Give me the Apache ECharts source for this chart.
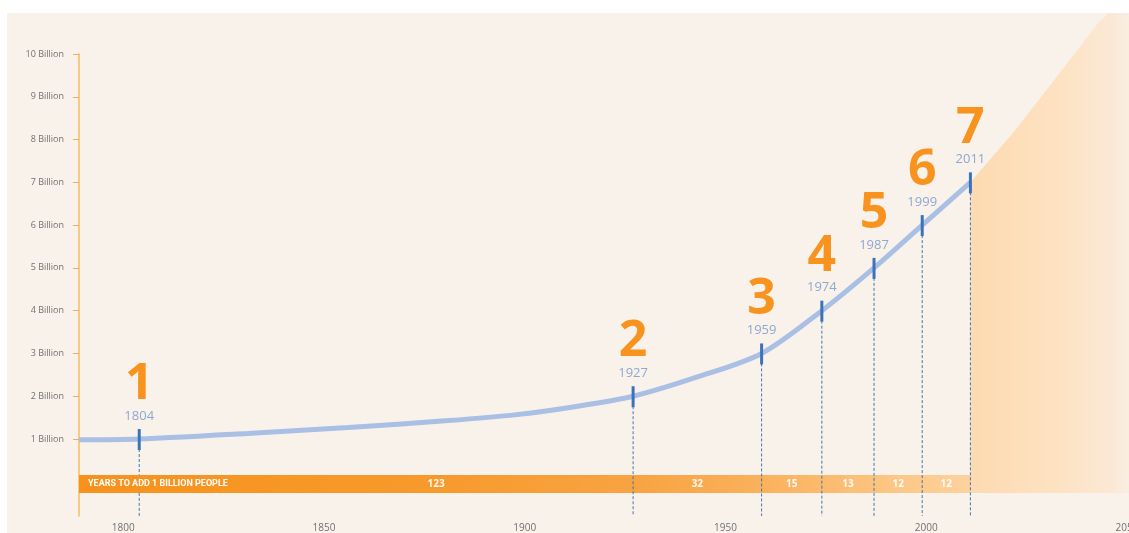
<!DOCTYPE html>
<html><head><meta charset="utf-8">
<script src="https://cdn.jsdelivr.net/npm/echarts@6/dist/echarts.min.js"></script>
<style>html,body{margin:0;padding:0;background:#fff}#c{width:1129px;height:533px}</style>
</head><body><div id="c"></div>
<script>
// ---- data ----
const milestoneYears = [1804, 1927, 1959, 1974, 1987, 1999, 2011];
const milestoneBillions = [1, 2, 3, 4, 5, 6, 7];
const milestoneNumbers = ['1', '2', '3', '4', '5', '6', '7'];
const historyYears = [1789, 1804, 1831, 1856, 1881, 1898, 1912, 1927, 1943, 1959, 1974, 1987, 1999, 2011];
const historyBillions = [0.98, 1.0, 1.13, 1.27, 1.43, 1.57, 1.75, 2.0, 2.45, 3.0, 4.0, 5.0, 6.0, 7.0];
const projectionYears = [2011, 2022, 2034, 2043, 2046, 2050];
const projectionBillions = [7.0, 8.2, 9.65, 10.75, 11.0, 11.0];
const yearsToAdd = ['123', '32', '15', '13', '12', '12'];
const bandTitle = 'YEARS TO ADD 1 BILLION PEOPLE';
const xTickValues = [1800, 1825, 1850, 1875, 1900, 1925, 1950, 1975, 2000, 2025, 2050];
const xLabelValues = [1800, 1850, 1900, 1950, 2000, 2050];
const yLabelValues = [1, 2, 3, 4, 5, 6, 7, 8, 9, 10];

const X_MIN = 1789, X_MAX = 2050, Y_MIN = -0.8, Y_MAX = 10;
const BAND_TOP = 0.16, BAND_BOTTOM = -0.26;

const chart = echarts.init(document.getElementById('c'), null, {renderer: 'canvas'});

const option = {
  backgroundColor: '#f9f2eb',
  animation: false,
  graphic: [
    {type: 'rect', shape: {x: 0, y: 0, width: 1129, height: 13}, style: {fill: '#ffffff'}, z: 100},
    {type: 'rect', shape: {x: 0, y: 0, width: 7, height: 533}, style: {fill: '#ffffff'}, z: 100}
  ],
  grid: {left: 79, right: 2, top: 54, bottom: 17, containLabel: false, outerBoundsMode: 'none'},
  xAxis: {
    type: 'value', min: X_MIN, max: X_MAX,
    axisLine: {show: true, lineStyle: {color: '#f3b24a', width: 1.5}},
    axisTick: {show: true, inside: true, length: 4, customValues: xTickValues, lineStyle: {color: '#e9b060', width: 1}},
    axisLabel: {customValues: xLabelValues, formatter: function (v) { return String(v); }, margin: 7, fontSize: 10,
      color: '#707070', fontFamily: 'Open Sans'},
    splitLine: {show: false}
  },
  yAxis: {
    type: 'value', min: Y_MIN, max: Y_MAX,
    axisLine: {show: true, lineStyle: {color: '#f5bc5c', width: 1.5}},
    axisTick: {show: true, length: 6, customValues: yLabelValues, lineStyle: {color: '#e9b060', width: 1}},
    axisLabel: {customValues: yLabelValues, formatter: '{value} Billion', margin: 15, fontSize: 9, color: '#707070', fontFamily: 'Open Sans'},
    splitLine: {show: false}
  },
  series: [
    { // projection area
      type: 'custom', z: 1, clip: false,
      data: [[X_MAX, 0]],
      renderItem: function (params, api) {
        const pts = projectionYears.map((y, i) => api.coord([y, projectionBillions[i]]));
        pts.push([1129, api.coord([X_MAX, projectionBillions[projectionBillions.length - 1]])[1]]);
        pts.push([1129, api.coord([X_MAX, BAND_BOTTOM])[1]]);
        pts.push(api.coord([projectionYears[0], BAND_BOTTOM]));
        return {
          type: 'polygon', shape: {points: pts},
          style: {fill: new echarts.graphic.LinearGradient(0, 0, 1, 0, [
            {offset: 0, color: '#fddab0'},
            {offset: 0.55, color: '#fde2c2'},
            {offset: 0.88, color: '#fbe8d4'},
            {offset: 1, color: '#f9eee2'}
          ])}
        };
      }
    },
    { // band
      type: 'custom', z: 2, clip: false,
      data: [[X_MIN, 0]],
      renderItem: function (params, api) {
        const tl = api.coord([X_MIN, BAND_TOP]);
        const br = api.coord([milestoneYears[milestoneYears.length - 1], BAND_BOTTOM]);
        const cy = (tl[1] + br[1]) / 2;
        const children = [{
          type: 'rect', shape: {x: tl[0], y: tl[1], width: br[0] - tl[0], height: br[1] - tl[1]},
          style: {fill: new echarts.graphic.LinearGradient(0, 0, 1, 0, [
            {offset: 0, color: '#f7921c'},
            {offset: 0.4, color: '#f79a2c'},
            {offset: 0.62, color: '#f8a342'},
            {offset: 0.74, color: '#faae56'},
            {offset: 0.84, color: '#fbbb6f'},
            {offset: 0.91, color: '#fcc684'},
            {offset: 1, color: '#fdd29e'}
          ])}
        }, {
          type: 'text', style: {text: bandTitle, x: tl[0] + 9, y: cy, align: 'left', verticalAlign: 'middle',
            fill: '#ffffff', font: 'bold 9px Roboto'}
        }];
        for (let i = 0; i < yearsToAdd.length; i++) {
          let a = api.coord([milestoneYears[i], 0])[0];
          const b = api.coord([milestoneYears[i + 1], 0])[0];
          if (i === 0) a = tl[0] + 160;
          children.push({type: 'text', style: {text: yearsToAdd[i], x: (a + b) / 2, y: cy, align: 'center',
            verticalAlign: 'middle', fill: 'rgba(255,255,255,0.92)', font: 'bold 10px "Open Sans"'}});
        }
        return {type: 'group', children: children};
      }
    },
    { // population curve
      type: 'line', z: 3,
      data: historyYears.map((y, i) => [y, historyBillions[i]]),
      smooth: 0.3, symbol: 'none',
      lineStyle: {color: '#a9bfe4', width: 5}
    },
    { // milestones
      type: 'custom', z: 4, clip: false,
      data: milestoneYears.map((y, i) => [y, milestoneBillions[i], i]),
      renderItem: function (params, api) {
        const yr = api.value(0), v = api.value(1), i = api.value(2);
        const p = api.coord([yr, v]);
        const base = api.coord([yr, Y_MIN]);
        const bandTop = api.coord([yr, BAND_TOP])[1];
        const bandBottom = api.coord([yr, BAND_BOTTOM])[1];
        const dash = {stroke: '#4274b5', lineWidth: 1, lineDash: [3, 2]};
        const lines = i === 0
          ? [{type: 'line', shape: {x1: p[0], y1: p[1] + 10, x2: p[0], y2: bandTop}, style: dash},
             {type: 'line', shape: {x1: p[0], y1: bandBottom, x2: p[0], y2: base[1]}, style: dash}]
          : [{type: 'line', shape: {x1: p[0], y1: p[1] + 10, x2: p[0], y2: base[1]}, style: dash}];
        return {type: 'group', children: lines.concat([
          {type: 'rect', shape: {x: p[0] - 1.5, y: p[1] - 10, width: 3, height: 21}, style: {fill: '#3b72ba'}},
          {type: 'text', style: {text: String(yr), x: p[0], y: p[1] - 23, align: 'center', verticalAlign: 'middle',
            fill: '#8ea8cf', font: '13px "Open Sans"'}},
          {type: 'text', style: {text: milestoneNumbers[i], x: p[0], y: p[1] - 54, align: 'center', verticalAlign: 'middle',
            fill: '#f7931e', font: 'bold 50px "Open Sans"'}}
        ])};
      }
    }
  ]
};
chart.setOption(option);
</script>
</body></html>
